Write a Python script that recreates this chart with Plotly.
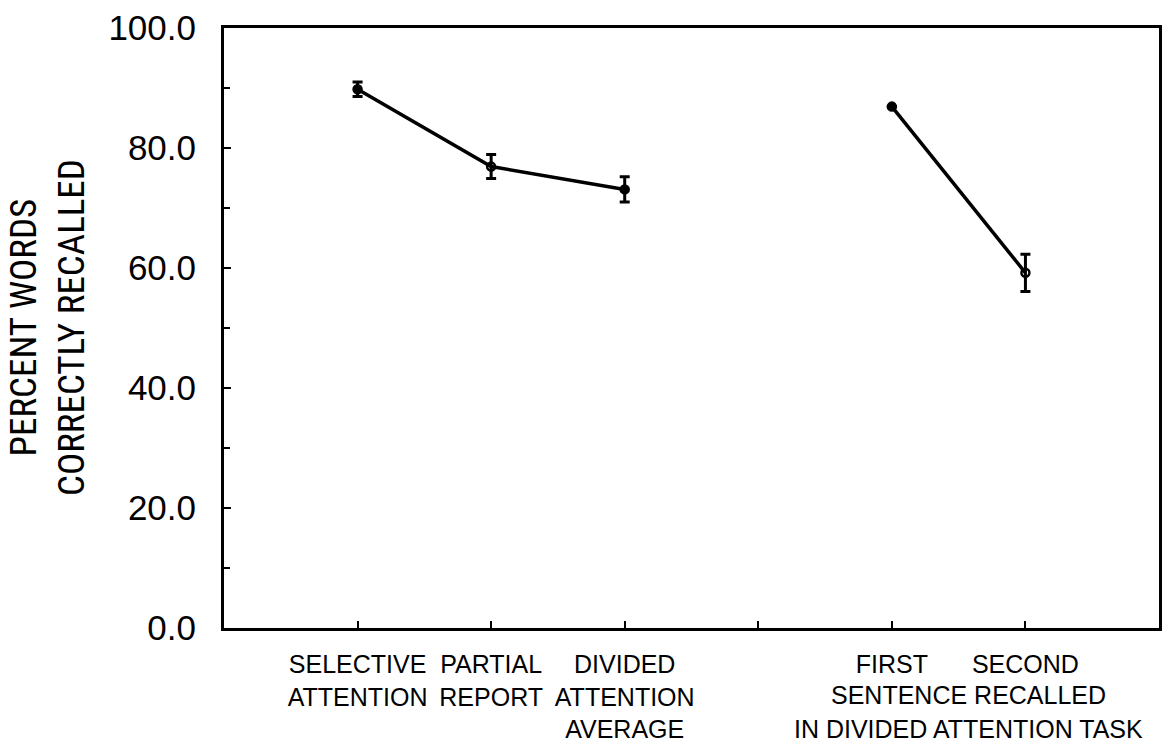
import plotly.graph_objects as go

# Data
task_pos = [1, 2, 3]
task_values = [89.8, 76.9, 73.1]
task_err = [1.2, 2.0, 2.1]
task_symbols = ["circle", "circle-open", "circle"]

sent_pos = [5, 6]
sent_values = [86.9, 59.2]
sent_err = [0.0, 3.1]
sent_symbols = ["circle", "circle-open"]

tick_pos = [1, 2, 3, 4, 5, 6]
tick_labels = ["SELECTIVE<br>ATTENTION", "PARTIAL<br>REPORT",
               "DIVIDED<br>ATTENTION<br>AVERAGE", "", "FIRST", "SECOND"]
group_label = ["SENTENCE RECALLED", "IN DIVIDED ATTENTION TASK"]
y_ticks = [0, 20, 40, 60, 80, 100]
y_title = "PERCENT WORDS<br>CORRECTLY RECALLED"

fig = go.Figure()
for xs, ys, es, syms in [(task_pos, task_values, task_err, task_symbols),
                         (sent_pos, sent_values, sent_err, sent_symbols)]:
    fig.add_trace(go.Scatter(
        x=xs, y=ys, mode="lines+markers",
        line=dict(color="black", width=3.5),
        marker=dict(symbol=syms, size=8, color="black",
                    line=dict(color="black", width=2.5)),
        error_y=dict(type="data", array=es, visible=True, color="black",
                     thickness=3, width=5),
        showlegend=False, hoverinfo="skip"))

fig.add_annotation(text=y_title, xref="paper", yref="paper", x=0, y=0.5,
                   xshift=-177, xanchor="center", yanchor="middle",
                   textangle=-90, showarrow=False,
                   font=dict(family="Liberation Sans Narrow, Roboto Condensed, DejaVu Sans Condensed, Arial Narrow",
                             size=37, color="black"))
for i, txt in enumerate(group_label):
    fig.add_annotation(text=txt, xref="x", yref="paper", x=5.5, y=0,
                       xshift=10, yshift=-67 - 34 * i, yanchor="middle",
                       xanchor="center", showarrow=False,
                       font=dict(family="Liberation Sans, Arial", size=25, color="black"))

fig.update_layout(
    width=1170, height=751,
    margin=dict(l=224, r=8, t=25, b=121),
    paper_bgcolor="white", plot_bgcolor="white",
    font=dict(family="Liberation Sans, Arial", color="black"),
    xaxis=dict(range=[0, 7], tickmode="array", tickvals=tick_pos, ticktext=tick_labels,
               ticks="inside", ticklen=7, tickwidth=2, tickcolor="black",
               showline=True, linewidth=3, linecolor="black", mirror=True,
               showgrid=False, zeroline=False, ticklabelstandoff=12,
               tickfont=dict(size=25, color="black")),
    yaxis=dict(range=[0, 100], tickmode="array", tickvals=y_ticks,
               ticktext=[f"{v:.1f}" for v in y_ticks],
               ticks="inside", ticklen=7, tickwidth=2, tickcolor="black",
               minor=dict(dtick=10, ticks="inside", ticklen=6, tickwidth=2, tickcolor="black"),
               showline=True, linewidth=3, linecolor="black", mirror=True,
               showgrid=False, zeroline=False, ticklabelstandoff=18,
               tickfont=dict(size=35, color="black")),
)

fig.write_html("out.html")
